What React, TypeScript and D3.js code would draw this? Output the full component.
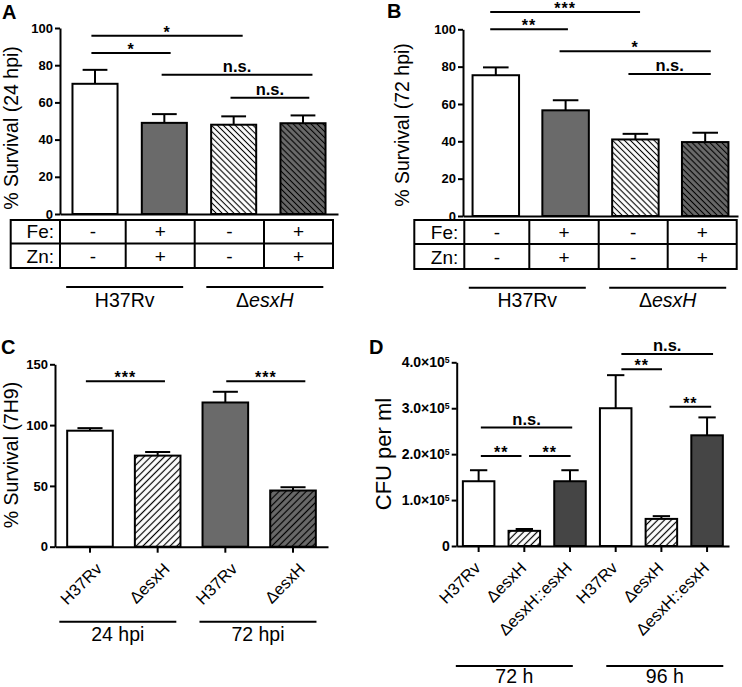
import React, { useEffect, useRef } from "react";
import * as d3 from "d3";

const FONT = "'Liberation Sans', Arial, Helvetica, sans-serif";

// ---------------- data ----------------
const strainsAB = ["H37Rv", "H37Rv", "ΔesxH", "ΔesxH"];
const feLevels = ["-", "+", "-", "+"];
const znLevels = ["-", "+", "-", "+"];
const survival24 = [70, 49, 48, 48.8];
const survival24Err = [7.5, 4.7, 4.5, 4.2];
const survival72 = [75.4, 56.6, 41, 39.6];
const survival72Err = [4.2, 5.4, 3, 5];
const ticksAB = [0, 20, 40, 60, 80, 100];
const groupsAB = ["H37Rv", "ΔesxH"];

const strainsC = ["H37Rv", "ΔesxH", "H37Rv", "ΔesxH"];
const survival7H9 = [95.4, 74.9, 118.6, 46.2];
const survival7H9Err = [2.1, 3, 8.8, 2.7];
const ticksC = [0, 50, 100, 150];
const groupsC = ["24 hpi", "72 hpi"];

const strainsD = ["H37Rv", "ΔesxH", "ΔesxH::esxH", "H37Rv", "ΔesxH", "ΔesxH::esxH"];
const cfuPerMl = [1.41e5, 0.33e5, 1.41e5, 3.0e5, 0.59e5, 2.41e5];
const cfuErr = [0.24e5, 0.04e5, 0.24e5, 0.72e5, 0.06e5, 0.39e5];
const ticksD = [0, 1e5, 2e5, 3e5, 4e5];
const groupsD = ["72 h", "96 h"];

type Sig = { a: number; fa: number; b: number; fb: number; y: number; label: string };
const sigA: Sig[] = [
  { a: 0, fa: 0.42, b: 2, fb: 0.7, y: 95.8, label: "*" },
  { a: 0, fa: 0.42, b: 1, fb: 0.64, y: 86.6, label: "*" },
  { a: 1, fa: 0.44, b: 3, fb: 0.71, y: 74.9, label: "n.s." },
  { a: 2, fa: 0.43, b: 3, fb: 0.64, y: 62.5, label: "n.s." },
];
const sigB: Sig[] = [
  { a: 0, fa: 0.38, b: 2, fb: 0.6, y: 109.3, label: "***" },
  { a: 0, fa: 0.38, b: 1, fb: 0.55, y: 100, label: "**" },
  { a: 1, fa: 0.37, b: 3, fb: 0.62, y: 88.2, label: "*" },
  { a: 2, fa: 0.35, b: 3, fb: 0.62, y: 76, label: "n.s." },
];
const sigC: Sig[] = [
  { a: 0, fa: 0.41, b: 1, fb: 0.66, y: 136, label: "***" },
  { a: 2, fa: 0.52, b: 3, fb: 0.77, y: 136, label: "***" },
];
const sigD: Sig[] = [
  { a: 0, fa: 0.57, b: 2, fb: 0.57, y: 2.58e5, label: "n.s." },
  { a: 0, fa: 0.57, b: 1, fb: 0.41, y: 1.96e5, label: "**" },
  { a: 1, fa: 0.65, b: 2, fb: 0.52, y: 1.96e5, label: "**" },
  { a: 3, fa: 0.68, b: 5, fb: 0.69, y: 4.18e5, label: "n.s." },
  { a: 3, fa: 0.68, b: 4, fb: 0.52, y: 3.85e5, label: "**" },
  { a: 4, fa: 0.76, b: 5, fb: 0.63, y: 3.03e5, label: "**" },
];

// ---------------- styles ----------------
const GRAY = "#6a6a6a";
const DARK = "#454545";
const fillsAB = ["#fff", GRAY, "url(#hbW)", "url(#hbG)"];
const fillsC = ["#fff", "url(#hfW)", GRAY, "url(#hfG)"];
const fillsD = ["#fff", "url(#hfW2)", DARK, "#fff", "url(#hfW2)", DARK];

function YAxis({ scale, ticks, sup, x, fontSize }: any) {
  const ref = useRef<SVGGElement>(null);
  useEffect(() => {
    const g = d3.select(ref.current as SVGGElement);
    g.call(
      d3
        .axisLeft(scale)
        .tickValues(ticks)
        .tickSize(5)
        .tickSizeOuter(0)
        .tickPadding(2)
        .tickFormat((d: any) => String(d)) as any
    );
    g.select(".domain").attr("stroke-width", 2).attr("stroke", "#000");
    g.selectAll(".tick line").attr("stroke-width", 2).attr("stroke", "#000");
    g.selectAll(".tick text")
      .attr("font-family", FONT)
      .attr("font-weight", "bold")
      .attr("font-size", fontSize)
      .attr("fill", "#000");
    if (sup) {
      g.selectAll(".tick text").each(function (d: any) {
        if (d > 0) {
          const t = d3.select(this as SVGTextElement);
          t.text("");
          t.append("tspan").text((d / 1e5).toFixed(1) + "×10");
          t.append("tspan").attr("dy", "-0.45em").attr("font-size", fontSize * 0.62).text("5");
        }
      });
    }
  }, []);
  return <g ref={ref} transform={`translate(${x},0)`} />;
}

function XAxis({ scale, y, ticks }: any) {
  const ref = useRef<SVGGElement>(null);
  useEffect(() => {
    const g = d3.select(ref.current as SVGGElement);
    g.call(
      d3
        .axisBottom(scale)
        .tickSize(ticks ? 6 : 0)
        .tickSizeOuter(0)
        .tickFormat(() => "") as any
    );
    g.select(".domain").attr("stroke-width", 2).attr("stroke", "#000");
    g.selectAll(".tick line").attr("stroke-width", 2).attr("stroke", "#000");
    if (!ticks) g.selectAll(".tick").remove();
  }, []);
  return <g ref={ref} transform={`translate(0,${y})`} />;
}

function Label({ text, italic }: { text: string; italic?: boolean }) {
  if (italic && text.startsWith("Δ")) {
    return (
      <>
        <tspan>Δ</tspan>
        <tspan fontStyle="italic">{text.slice(1)}</tspan>
      </>
    );
  }
  return <>{text}</>;
}

function Panel(props: any) {
  const {
    letter, letterPos, xRange, pi, po, yDomain, yRange, values, errs, fills, ticks, sup, tickFont,
    sig, yLabel, yLabelPos, yLabelSize, groups, groupIdx, groupLineY, groupLabelY, groupDx,
    xTicks, rotLabels, rotDx, rotY, table, tableX, tableY,
  } = props;
  const x = d3.scaleBand<number>().domain(d3.range(values.length)).range(xRange).paddingInner(pi).paddingOuter(po);
  const y = d3.scaleLinear().domain(yDomain).range(yRange);
  const bw = x.bandwidth();
  const cap = bw * 0.55;
  return (
    <g>
      <text x={letterPos[0]} y={letterPos[1]} fontSize={20} fontWeight="bold" fontFamily={FONT}>{letter}</text>
      <text
        transform={`translate(${yLabelPos[0]},${yLabelPos[1]}) rotate(-90)`}
        textAnchor="middle"
        fontSize={yLabelSize}
        fontFamily={FONT}
      >
        {yLabel}
      </text>
      {values.map((v: number, i: number) => {
        const cx = (x(i) as number) + bw / 2;
        const top = y(v);
        const et = y(v + errs[i]);
        return (
          <g key={i}>
            <line x1={cx} x2={cx} y1={top} y2={et} stroke="#000" strokeWidth={2} />
            <line x1={cx - cap / 2} x2={cx + cap / 2} y1={et} y2={et} stroke="#000" strokeWidth={2} />
            <rect x={x(i)} y={top} width={bw} height={y(0) - top} fill={fills[i]} stroke="#000" strokeWidth={2} />
          </g>
        );
      })}
      <XAxis scale={x} y={y(0)} ticks={xTicks} />
      <YAxis scale={y} ticks={ticks} sup={sup} x={xRange[0]} fontSize={tickFont} />
      {sig.map((s: Sig, i: number) => {
        const x1 = (x(s.a) as number) + s.fa * bw;
        const x2 = (x(s.b) as number) + s.fb * bw;
        const yy = y(s.y);
        const stars = s.label !== "n.s.";
        return (
          <g key={i}>
            <line x1={x1} x2={x2} y1={yy} y2={yy} stroke="#000" strokeWidth={2} />
            <text
              x={(x1 + x2) / 2}
              y={stars ? yy + 2 : yy - 3}
              textAnchor="middle"
              fontFamily={FONT}
              fontWeight="bold"
              fontSize={stars ? 16 : 16.5}
              letterSpacing={stars ? 1 : 0}
            >
              {s.label}
            </text>
          </g>
        );
      })}
      {table && (
        <g fontFamily={FONT} fontSize={19}>
          <rect x={tableX[0]} y={tableY[0]} width={tableX[tableX.length - 1] - tableX[0]} height={tableY[2] - tableY[0]} fill="none" stroke="#000" strokeWidth={2} />
          <line x1={tableX[0]} x2={tableX[tableX.length - 1]} y1={tableY[1]} y2={tableY[1]} stroke="#000" strokeWidth={2} />
          {tableX.slice(1, -1).map((tx: number, i: number) => (
            <line key={i} x1={tx} x2={tx} y1={tableY[0]} y2={tableY[2]} stroke="#000" strokeWidth={2} />
          ))}
          {table.map((row: any, r: number) => (
            <g key={r}>
              <text x={tableX[1] - 6} y={tableY[r + 1] - 5.5} textAnchor="end">{row.label}</text>
              {row.values.map((v: string, c: number) => (
                <text key={c} x={(tableX[c + 1] + tableX[c + 2]) / 2} y={tableY[r + 1] - 5.5} textAnchor="middle">{v}</text>
              ))}
            </g>
          ))}
        </g>
      )}
      {rotLabels &&
        rotLabels.map((t: string, i: number) => {
          const cx = (x(i) as number) + bw / 2 + rotDx;
          return (
            <text key={i} transform={`translate(${cx},${rotY}) rotate(-45)`} textAnchor="end" fontFamily={FONT} fontSize={16.5}>
              {t}
            </text>
          );
        })}
      {groups.map((gname: string, gi: number) => {
        const idx = groupIdx[gi];
        const left = x(idx[0]) as number;
        const right = (x(idx[idx.length - 1]) as number) + bw;
        const c = (left + right) / 2 + groupDx[gi];
        return (
          <g key={gi}>
            <line x1={c - 58.5} x2={c + 58.5} y1={groupLineY} y2={groupLineY} stroke="#000" strokeWidth={2} />
            <text x={c} y={groupLabelY} textAnchor="middle" fontFamily={FONT} fontSize={19.5}>
              <Label text={gname} italic={!!table} />
            </text>
          </g>
        );
      })}
    </g>
  );
}

function Hatch({ id, bg, w, angle, sw }: { id: string; bg: string; w: number; angle: number; sw: number }) {
  return (
    <pattern id={id} width={w} height={w} patternUnits="userSpaceOnUse" patternTransform={`rotate(${angle})`}>
      <rect width={w} height={w} fill={bg} />
      <line x1={w / 2} x2={w / 2} y1={0} y2={w} stroke="#000" strokeWidth={sw} />
    </pattern>
  );
}

export default function App() {
  const tableRows = [
    { label: "Fe:", values: feLevels },
    { label: "Zn:", values: znLevels },
  ];
  return (
    <div style={{ position: "absolute", left: 0, top: 0 }}>
      <svg width={742} height={687} style={{ display: "block", background: "#fff" }}>
        <defs>
          <Hatch id="hbW" bg="#fff" w={4.2} angle={-45} sw={1.1} />
          <Hatch id="hbG" bg={GRAY} w={4.2} angle={-45} sw={1.1} />
          <Hatch id="hfW" bg="#fff" w={4.8} angle={45} sw={1.2} />
          <Hatch id="hfG" bg={GRAY} w={4.8} angle={45} sw={1.2} />
          <Hatch id="hfW2" bg="#fff" w={4.8} angle={45} sw={1.2} />
        </defs>
        <Panel
          letter="A" letterPos={[2, 19]}
          xRange={[60, 338]} pi={0.35} po={0.18}
          yDomain={[0, 100]} yRange={[214, 28]}
          values={survival24} errs={survival24Err} fills={fillsAB}
          ticks={ticksAB} tickFont={13} sig={sigA}
          yLabel="% Survival (24 hpi)" yLabelPos={[17.5, 128]} yLabelSize={19.5}
          groups={groupsAB} groupIdx={[[0, 1], [2, 3]]} groupLineY={287} groupLabelY={307} groupDx={[-5, -3.5]}
          xTicks={false}
          table={tableRows} tableX={[10.7, 60, 125.7, 194.7, 264, 333]} tableY={[220, 243.5, 268]}
          cats={strainsAB}
        />
        <Panel
          letter="B" letterPos={[387, 18]}
          xRange={[463, 738]} pi={0.334} po={0.137}
          yDomain={[0, 100]} yRange={[216, 29.3]}
          values={survival72} errs={survival72Err} fills={fillsAB}
          ticks={ticksAB} tickFont={13} sig={sigB}
          yLabel="% Survival (72 hpi)" yLabelPos={[409, 125]} yLabelSize={19.5}
          groups={groupsAB} groupIdx={[[0, 1], [2, 3]]} groupLineY={287.7} groupLabelY={307} groupDx={[-3.4, -2.6]}
          xTicks={false}
          table={tableRows} tableX={[414.3, 464.3, 529.3, 598.7, 667.7, 736.7]} tableY={[220, 244, 269]}
          cats={strainsAB}
        />
        <Panel
          letter="C" letterPos={[1, 354]}
          xRange={[55, 328]} pi={0.326} po={0.18}
          yDomain={[0, 150]} yRange={[546.7, 364.3]}
          values={survival7H9} errs={survival7H9Err} fills={fillsC}
          ticks={ticksC} tickFont={13} sig={sigC}
          yLabel="% Survival (7H9)" yLabelPos={[17.5, 455]} yLabelSize={19.5}
          groups={groupsC} groupIdx={[[0, 1], [2, 3]]} groupLineY={621.7} groupLabelY={640.5} groupDx={[-6, -1.2]}
          xTicks={true} rotLabels={strainsC} rotDx={13} rotY={570}
        />
        <Panel
          letter="D" letterPos={[369, 354]}
          xRange={[456.7, 729]} pi={0.31} po={0.135}
          yDomain={[0, 4e5]} yRange={[546, 362.3]}
          values={cfuPerMl} errs={cfuErr} fills={fillsD}
          ticks={ticksD} tickFont={14} sup={true} sig={sigD}
          yLabel="CFU per ml" yLabelPos={[391, 454]} yLabelSize={22}
          groups={groupsD} groupIdx={[[0, 1, 2], [3, 4, 5]]} groupLineY={666} groupLabelY={683} groupDx={[-10, 3.4]}
          xTicks={true} rotLabels={strainsD} rotDx={3} rotY={569}
        />
      </svg>
    </div>
  );
}
